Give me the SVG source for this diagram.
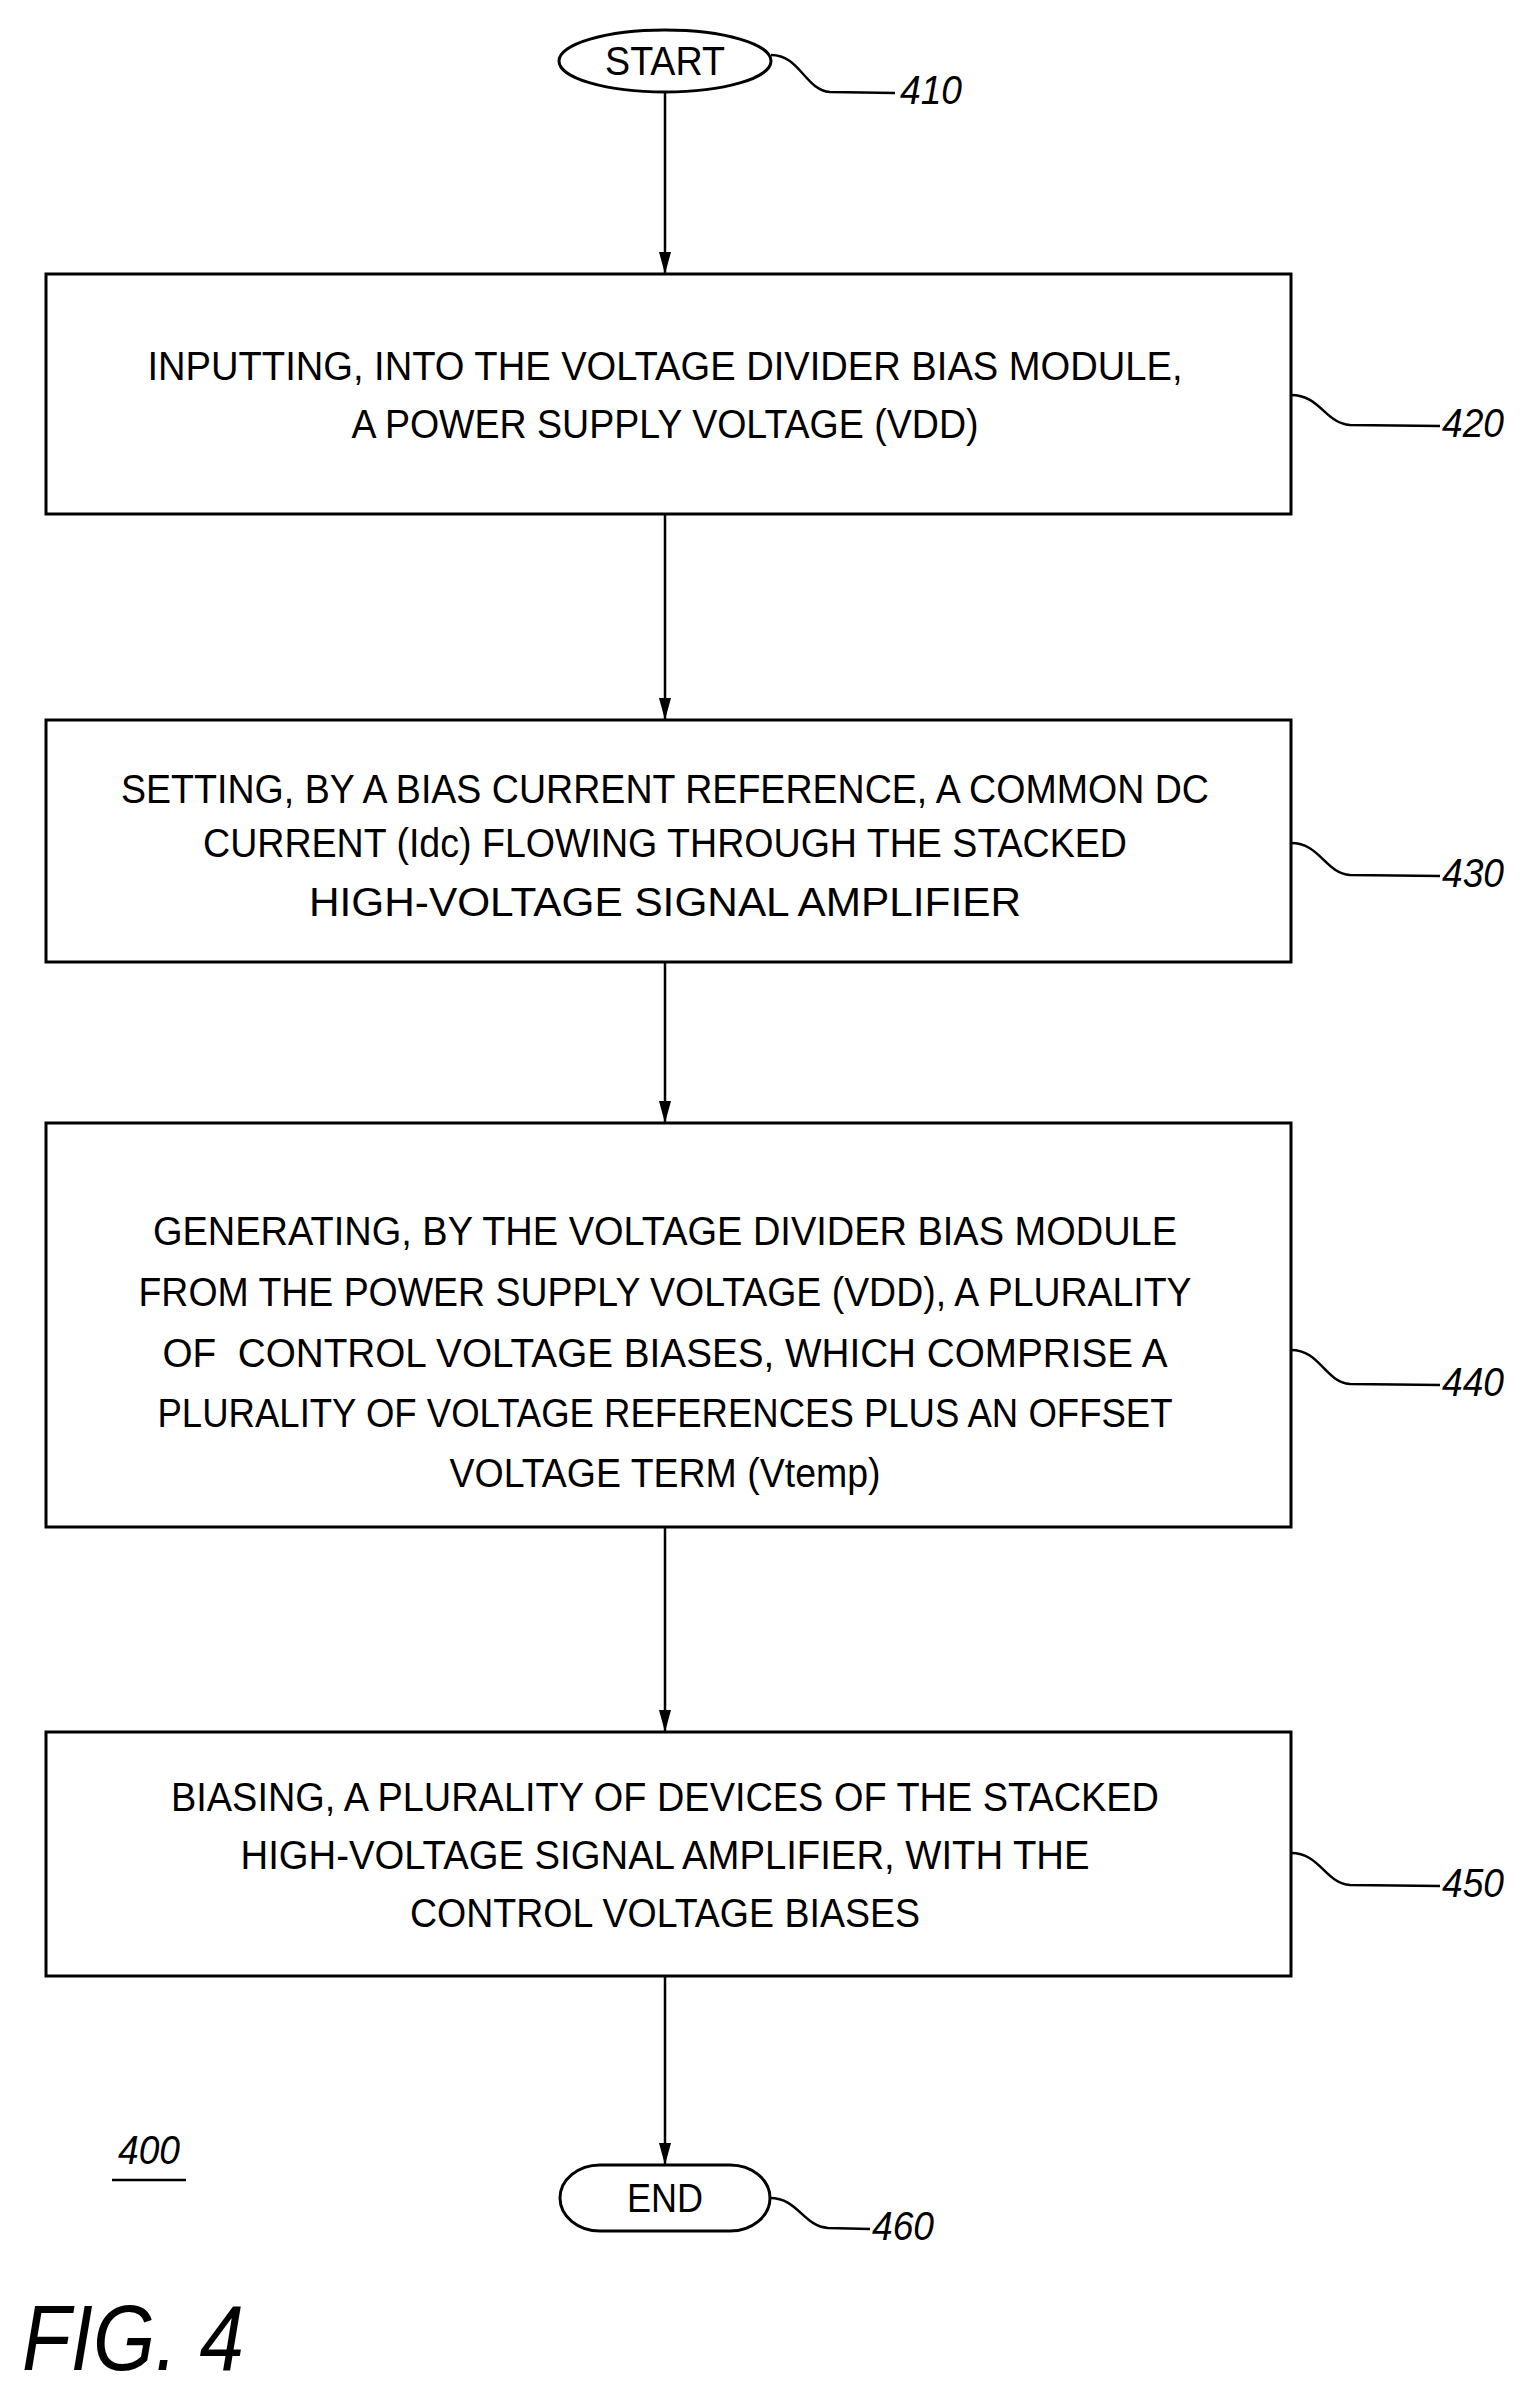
<svg xmlns="http://www.w3.org/2000/svg" width="1522" height="2408" viewBox="0 0 1522 2408">
<style>
.b{fill:#fff;stroke:#000;stroke-width:3}
.t{font-family:"Liberation Sans",Arial,sans-serif;font-size:40px;text-anchor:middle;fill:#000}
.r{font-family:"Liberation Sans",Arial,sans-serif;font-size:40px;font-style:italic;fill:#000}
.l{fill:none;stroke:#000;stroke-width:2.5}
</style>
<defs><marker id="a" markerWidth="22" markerHeight="12" refX="22" refY="6" orient="auto" markerUnits="userSpaceOnUse" viewBox="0 0 22 12"><path d="M0,0 L22,6 L0,12 Z" fill="#000"/></marker></defs>
<rect width="1522" height="2408" fill="#fff"/>
<g id="connectors">
<line class="l" x1="665" y1="92" x2="665" y2="274" marker-end="url(#a)"/>
<line class="l" x1="665" y1="514" x2="665" y2="720" marker-end="url(#a)"/>
<line class="l" x1="665" y1="962" x2="665" y2="1123" marker-end="url(#a)"/>
<line class="l" x1="665" y1="1527" x2="665" y2="1732" marker-end="url(#a)"/>
<line class="l" x1="665" y1="1976" x2="665" y2="2165" marker-end="url(#a)"/>
</g>
<g id="n410"><ellipse class="b" cx="665" cy="61" rx="106" ry="31"/><text class="t" x="665" y="75" textLength="120" lengthAdjust="spacingAndGlyphs">START</text>
<path class="l" stroke-width="4" d="M771,55 C800,55 805,90 830,92 L895,93"/><text class="r" x="900" y="104" textLength="62" lengthAdjust="spacingAndGlyphs">410</text></g>
<g id="n420"><rect class="b" x="46" y="274" width="1245" height="240"/>
<text class="t" x="665" y="380" textLength="1035" lengthAdjust="spacingAndGlyphs">INPUTTING, INTO THE VOLTAGE DIVIDER BIAS MODULE,</text>
<text class="t" x="665" y="438" textLength="627" lengthAdjust="spacingAndGlyphs">A POWER SUPPLY VOLTAGE (VDD)</text>
<path class="l" stroke-width="4" d="M1291,395 C1320,395 1325,423 1350,425 L1440,426"/><text class="r" x="1442" y="437" textLength="62" lengthAdjust="spacingAndGlyphs">420</text></g>
<g id="n430"><rect class="b" x="46" y="720" width="1245" height="242"/>
<text class="t" x="665" y="803" textLength="1088" lengthAdjust="spacingAndGlyphs">SETTING, BY A BIAS CURRENT REFERENCE, A COMMON DC</text>
<text class="t" x="665" y="857" textLength="924" lengthAdjust="spacingAndGlyphs">CURRENT (Idc) FLOWING THROUGH THE STACKED</text>
<text class="t" x="665" y="916" textLength="712" lengthAdjust="spacingAndGlyphs">HIGH-VOLTAGE SIGNAL AMPLIFIER</text>
<path class="l" stroke-width="4" d="M1291,843 C1320,843 1325,873 1350,875 L1440,876"/><text class="r" x="1442" y="887" textLength="62" lengthAdjust="spacingAndGlyphs">430</text></g>
<g id="n440"><rect class="b" x="46" y="1123" width="1245" height="404"/>
<text class="t" x="665" y="1245" textLength="1024" lengthAdjust="spacingAndGlyphs">GENERATING, BY THE VOLTAGE DIVIDER BIAS MODULE</text>
<text class="t" x="665" y="1306" textLength="1053" lengthAdjust="spacingAndGlyphs">FROM THE POWER SUPPLY VOLTAGE (VDD), A PLURALITY</text>
<text class="t" x="665" y="1367" textLength="1005" lengthAdjust="spacingAndGlyphs" xml:space="preserve">OF  CONTROL VOLTAGE BIASES, WHICH COMPRISE A</text>
<text class="t" x="665" y="1427" textLength="1015" lengthAdjust="spacingAndGlyphs">PLURALITY OF VOLTAGE REFERENCES PLUS AN OFFSET</text>
<text class="t" x="665" y="1487" textLength="431" lengthAdjust="spacingAndGlyphs">VOLTAGE TERM (Vtemp)</text>
<path class="l" stroke-width="4" d="M1291,1350 C1320,1350 1325,1382 1350,1384 L1440,1385"/><text class="r" x="1442" y="1396" textLength="62" lengthAdjust="spacingAndGlyphs">440</text></g>
<g id="n450"><rect class="b" x="46" y="1732" width="1245" height="244"/>
<text class="t" x="665" y="1811" textLength="988" lengthAdjust="spacingAndGlyphs">BIASING, A PLURALITY OF DEVICES OF THE STACKED</text>
<text class="t" x="665" y="1869" textLength="849" lengthAdjust="spacingAndGlyphs">HIGH-VOLTAGE SIGNAL AMPLIFIER, WITH THE</text>
<text class="t" x="665" y="1927" textLength="510" lengthAdjust="spacingAndGlyphs">CONTROL VOLTAGE BIASES</text>
<path class="l" stroke-width="4" d="M1291,1853 C1320,1853 1325,1883 1350,1885 L1440,1886"/><text class="r" x="1442" y="1897" textLength="62" lengthAdjust="spacingAndGlyphs">450</text></g>
<g id="n460"><rect class="b" x="560" y="2165" width="210" height="66" rx="40" ry="33"/>
<text class="t" x="665" y="2212" textLength="76" lengthAdjust="spacingAndGlyphs">END</text>
<path class="l" stroke-width="4" d="M770,2198 C798,2198 803,2226 828,2228 L870,2229"/><text class="r" x="872" y="2240" textLength="62" lengthAdjust="spacingAndGlyphs">460</text></g>
<g id="label400"><text class="r" x="118" y="2164" textLength="62" lengthAdjust="spacingAndGlyphs">400</text><line class="l" x1="112" y1="2180" x2="186" y2="2180"/></g>
<text class="r" x="22" y="2370" style="font-size:92px" textLength="222" lengthAdjust="spacingAndGlyphs">FIG. 4</text>
</svg>
